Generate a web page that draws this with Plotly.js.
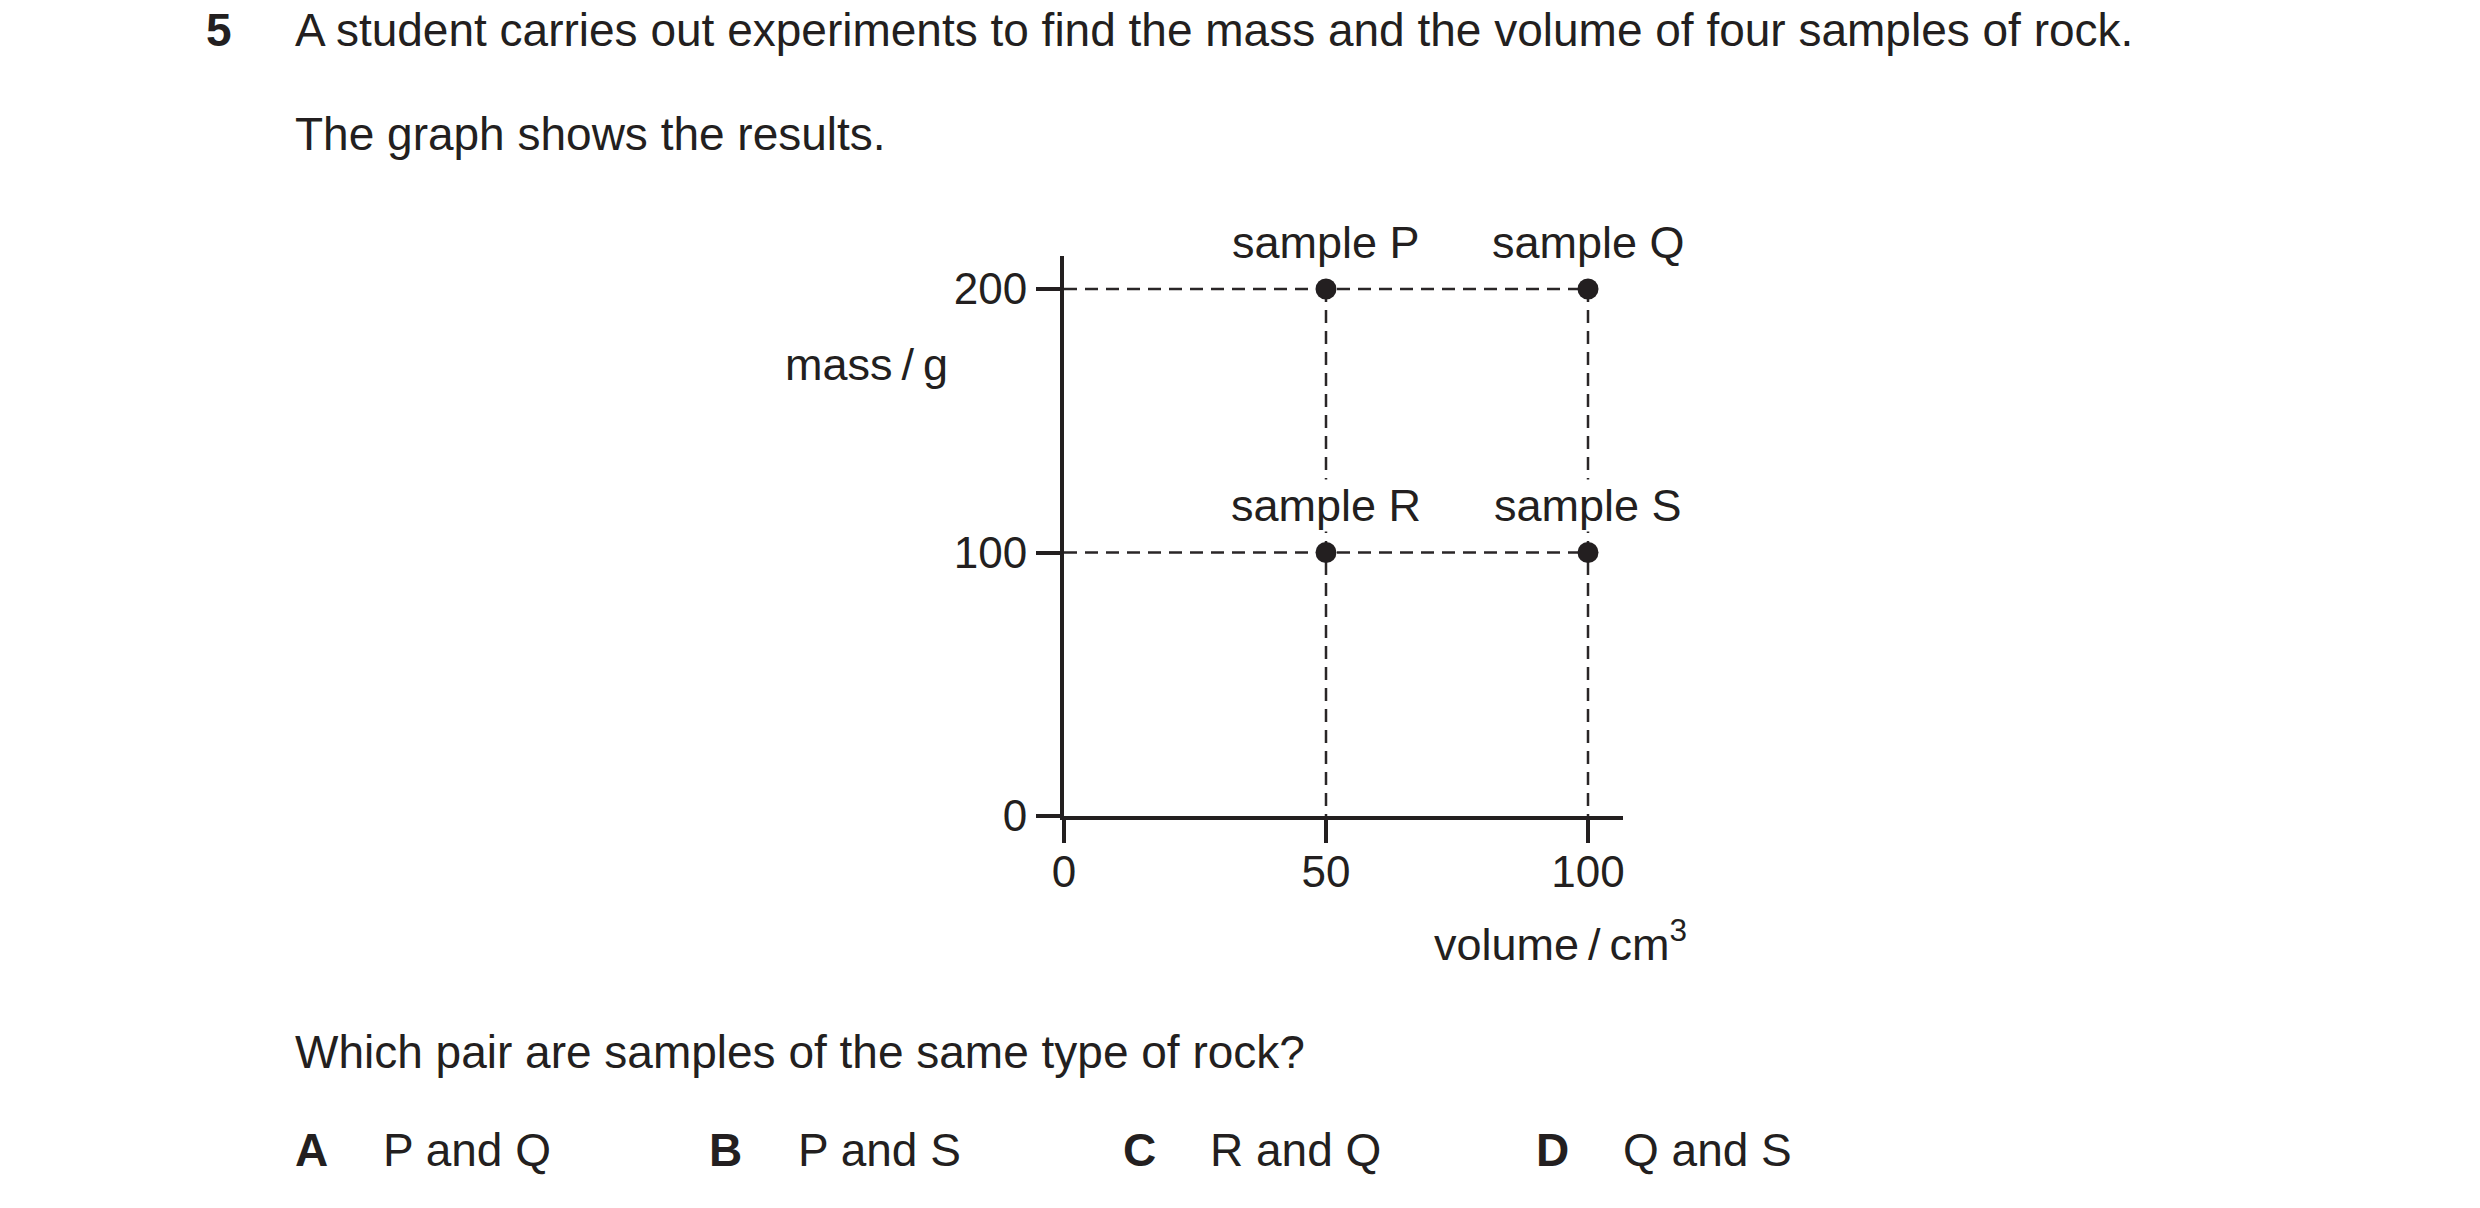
<!DOCTYPE html>
<html>
<head>
<meta charset="utf-8">
<script src="https://cdn.plot.ly/plotly-3.0.1.min.js"></script>
<style>html,body{margin:0;padding:0;background:#fff;}#chart{width:2480px;height:1208px;}</style>
</head>
<body>
<div id="chart"></div>
<script>
// ---- data ----
const sampleNames = ['P', 'Q', 'R', 'S'];
const volumes = [50, 100, 50, 100];      // cm^3
const masses = [200, 200, 100, 100];     // g
const xTicks = [0, 50, 100];
const yTicks = [0, 100, 200];
const questionNumber = '5';
const introLine = 'A student carries out experiments to find the mass and the volume of four samples of rock.';
const introLine2 = 'The graph shows the results.';
const questionLine = 'Which pair are samples of the same type of rock?';
const optionLetters = ['A', 'B', 'C', 'D'];
const optionTexts = ['P and Q', 'P and S', 'R and Q', 'Q and S'];
const yAxisLabel = 'mass\u2009/\u2009g';
const xAxisLabel = 'volume\u2009/\u2009cm<sup>3</sup>';

// ---- layout geometry ----
const W = 2480, H = 1208;
const L = 1064, R = 1623, T = 256, B = 816;
const pw = R - L, ph = B - T;
const xPerUnit = (1588 - 1064) / 100;
const yPerUnit = (816 - 289) / 200;
const xmax = pw / xPerUnit, ymax = ph / yPerUnit;
const px = x => (x - L) / pw;
const py = y => (B - y) / ph;

const ink = '#231f20';
const fontFam = '"Liberation Sans", Arial, Helvetica, sans-serif';

// ---- guide lines built from data ----
const traces = [];
const guide = {color: '#2a2627', width: 2.5, dash: '13px,8px'};
const uniqMass = [...new Set(masses)];
uniqMass.forEach(m => {
  const vmax = Math.max(...volumes.filter((v, i) => masses[i] === m));
  traces.push({x: [0, vmax], y: [m, m], mode: 'lines', line: guide, hoverinfo: 'skip', showlegend: false});
});
const uniqVol = [...new Set(volumes)];
uniqVol.forEach(v => {
  const mmax = Math.max(...masses.filter((m, i) => volumes[i] === v));
  traces.push({x: [v, v], y: [mmax, 0], mode: 'lines', line: guide, hoverinfo: 'skip', showlegend: false});
});
traces.push({
  x: volumes, y: masses, mode: 'markers',
  marker: {size: 21, color: ink},
  text: sampleNames.map(n => 'sample ' + n),
  showlegend: false
});

// ---- annotations ----
const ann = [];
sampleNames.forEach((n, i) => {
  ann.push({x: volumes[i], y: masses[i], xref: 'x', yref: 'y', text: 'sample ' + n,
    showarrow: false, xanchor: 'center', yanchor: 'middle', yshift: 47,
    bgcolor: '#ffffff', borderpad: 0, font: {size: 45, color: ink, family: fontFam}});
});
function txt(text, x, y, opts) {
  ann.push(Object.assign({text: text, x: px(x), y: py(y), xref: 'paper', yref: 'paper',
    showarrow: false, xanchor: 'left', yanchor: 'middle', borderpad: 0,
    font: {size: 46, color: ink, family: fontFam}}, opts || {}));
}
txt('<b>' + questionNumber + '</b>', 205, 30);
txt(introLine, 294, 30);
txt(introLine2, 294, 134);
txt(yAxisLabel, 949, 364, {xanchor: 'right', font: {size: 45, color: ink, family: fontFam}});
txt(xAxisLabel, 1433, 941, {font: {size: 45, color: ink, family: fontFam}});
txt(questionLine, 294, 1052);
const letterX = [294, 708, 1122, 1535];
const optX = [382, 797, 1209, 1622];
optionLetters.forEach((l, i) => {
  txt('<b>' + l + '</b>', letterX[i], 1150);
  txt(optionTexts[i], optX[i], 1150);
});

const layout = {
  width: W, height: H,
  margin: {l: L, r: W - R, t: T, b: H - B, pad: 0},
  paper_bgcolor: '#ffffff', plot_bgcolor: '#ffffff',
  showlegend: false,
  font: {family: fontFam, color: ink},
  xaxis: {range: [0, xmax], showgrid: false, zeroline: false, showline: true, linewidth: 4, linecolor: ink,
    tickmode: 'array', tickvals: xTicks, ticktext: xTicks.map(String), ticks: 'outside', ticklen: 23, tickwidth: 4, tickcolor: ink,
    ticklabelstandoff: -9,
    tickfont: {size: 44, color: ink, family: fontFam}, fixedrange: true},
  yaxis: {range: [0, ymax], showgrid: false, zeroline: false, showline: true, linewidth: 4, linecolor: ink,
    tickmode: 'array', tickvals: yTicks, ticktext: yTicks.map(String), ticks: 'outside', ticklen: 24, tickwidth: 4, tickcolor: ink,
    tickfont: {size: 44, color: ink, family: fontFam}, fixedrange: true},
  annotations: ann
};
Plotly.newPlot('chart', traces, layout, {displayModeBar: false, staticPlot: true});
</script>
</body>
</html>
